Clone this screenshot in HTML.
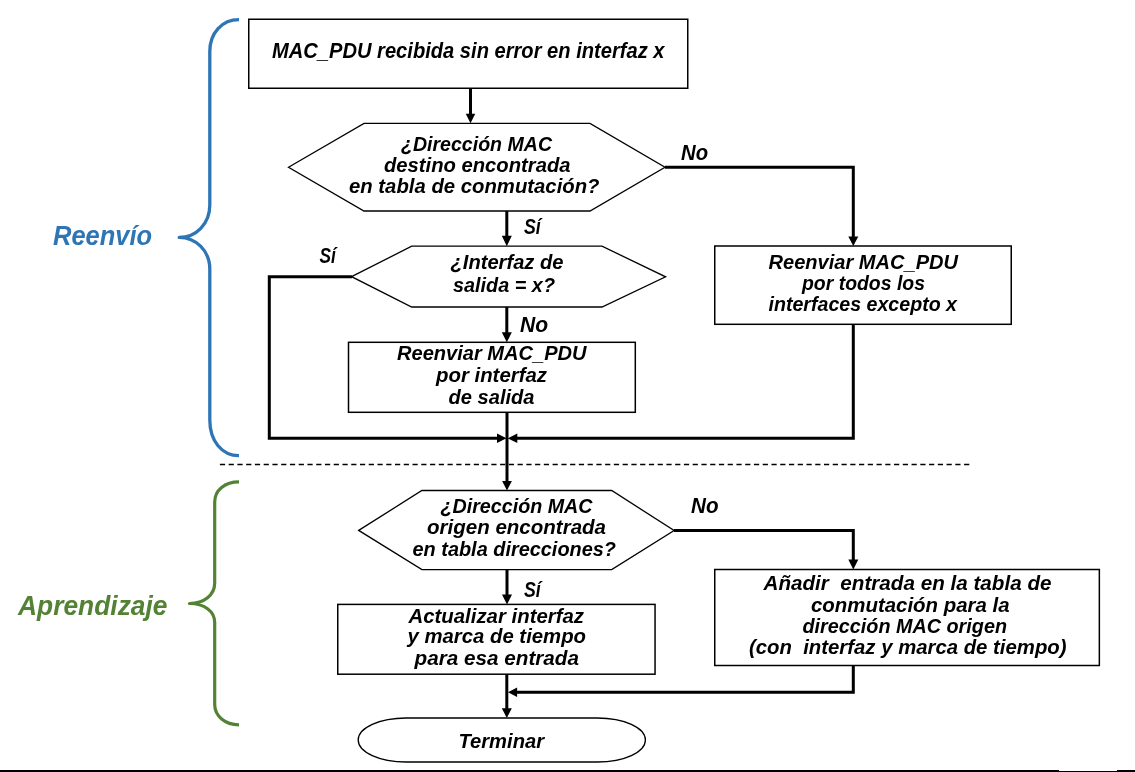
<!DOCTYPE html>
<html><head><meta charset="utf-8"><style>
html,body{margin:0;padding:0;background:#fff;width:1135px;height:772px;overflow:hidden;}
svg{display:block;will-change:transform;font-family:"Liberation Sans",sans-serif;}
</style></head><body>
<svg width="1135" height="772" viewBox="0 0 1135 772">
<path d="M239 19.7 C222 19.7 209.8 33 209.8 51.5 V205 C209.8 224 196 237.4 179.2 237.4 C196 237.4 209.8 251 209.8 269 V420 C209.8 441 222 455.7 239 455.7" fill="none" stroke="#2E75B6" stroke-width="3.3" stroke-linecap="butt" stroke-linejoin="round"/>
<path d="M239 481.9 C225 481.9 214.7 490 214.7 502 V583 C214.7 595 204 603.5 189.5 603.5 C204 603.5 214.7 611 214.7 622.5 V704.6 C214.7 716 225 724.8 239 724.8" fill="none" stroke="#548235" stroke-width="3.2" stroke-linecap="butt" stroke-linejoin="round"/>
<path d="M219.9 464.5 H970" fill="none" stroke="#000" stroke-width="1.7" stroke-dasharray="5.2 3.555"/>
<rect x="248.75" y="19.25" width="439" height="69" fill="#fff" stroke="#000" stroke-width="1.5"/>
<path d="M288.5 167.2 L364 123.4 L590 123.4 L665 167.2 L590 211 L364 211 Z" fill="#fff" stroke="#000" stroke-width="1.3"/>
<path d="M351.6 276.7 L411.7 246.2 L602 246.2 L665.6 276.8 L602 307 L411.7 307 Z" fill="#fff" stroke="#000" stroke-width="1.3"/>
<rect x="714.75" y="246" width="296.5" height="78.3" fill="#fff" stroke="#000" stroke-width="1.5"/>
<rect x="348.5" y="342.3" width="286.8" height="70" fill="#fff" stroke="#000" stroke-width="1.5"/>
<path d="M358.7 530.4 L421.9 490.5 L611.7 490.5 L674.1 530.5 L611.7 569.6 L421.9 569.6 Z" fill="#fff" stroke="#000" stroke-width="1.3"/>
<rect x="714.75" y="569.5" width="384.6" height="96" fill="#fff" stroke="#000" stroke-width="1.5"/>
<rect x="337.75" y="604.4" width="317.3" height="69.8" fill="#fff" stroke="#000" stroke-width="1.5"/>
<rect x="358.2" y="718" width="287.2" height="44" rx="48" ry="22" fill="#fff" stroke="#000" stroke-width="1.3"/>
<path d="M470.5 89 V114.5" fill="none" stroke="#000" stroke-width="3" stroke-linejoin="miter" stroke-linecap="butt"/>
<path d="M465.75 113.80 L475.25 113.80 L470.50 123.30 Z"/>
<path d="M665 167.2 H853.3 V237" fill="none" stroke="#000" stroke-width="3" stroke-linejoin="miter" stroke-linecap="butt"/>
<path d="M848.30 236.50 L858.30 236.50 L853.30 246.00 Z"/>
<path d="M506.8 211 V236" fill="none" stroke="#000" stroke-width="3" stroke-linejoin="miter" stroke-linecap="butt"/>
<path d="M501.80 235.70 L511.80 235.70 L506.80 246.20 Z"/>
<path d="M352 276.7 H269.3 V438.3 H498" fill="none" stroke="#000" stroke-width="3" stroke-linejoin="miter" stroke-linecap="butt"/>
<path d="M497.00 433.55 L497.00 443.05 L506.50 438.30 Z"/>
<path d="M506.8 307 V333" fill="none" stroke="#000" stroke-width="3" stroke-linejoin="miter" stroke-linecap="butt"/>
<path d="M501.80 332.30 L511.80 332.30 L506.80 342.30 Z"/>
<path d="M507 412.3 V481.5" fill="none" stroke="#000" stroke-width="3" stroke-linejoin="miter" stroke-linecap="butt"/>
<path d="M502.10 480.90 L511.90 480.90 L507.00 490.50 Z"/>
<path d="M853.3 324.3 V438.3 H516" fill="none" stroke="#000" stroke-width="3" stroke-linejoin="miter" stroke-linecap="butt"/>
<path d="M517.30 433.55 L517.30 443.05 L507.80 438.30 Z"/>
<path d="M674 530.6 H853.3 V560" fill="none" stroke="#000" stroke-width="3" stroke-linejoin="miter" stroke-linecap="butt"/>
<path d="M848.30 559.50 L858.30 559.50 L853.30 569.50 Z"/>
<path d="M507 569.6 V595" fill="none" stroke="#000" stroke-width="3" stroke-linejoin="miter" stroke-linecap="butt"/>
<path d="M502.00 594.40 L512.00 594.40 L507.00 604.40 Z"/>
<path d="M506.8 674.2 V709" fill="none" stroke="#000" stroke-width="3" stroke-linejoin="miter" stroke-linecap="butt"/>
<path d="M501.80 708.20 L511.80 708.20 L506.80 718.00 Z"/>
<path d="M853.3 665.5 V692.2 H516" fill="none" stroke="#000" stroke-width="3" stroke-linejoin="miter" stroke-linecap="butt"/>
<path d="M517.10 687.50 L517.10 696.90 L507.90 692.20 Z"/>
<rect x="0" y="770" width="1059" height="2" fill="#000"/>
<rect x="1059" y="771" width="58" height="1" fill="#000"/>
<rect x="1117" y="770" width="18" height="2" fill="#000"/>
<g font-family="Liberation Sans, sans-serif" font-weight="bold" font-style="italic" stroke-width="0.0" stroke-linejoin="miter" stroke-miterlimit="2">
<text xml:space="preserve" x="272.00" y="57.90" font-size="21.80" fill="#000" stroke="none" textLength="392.50" lengthAdjust="spacingAndGlyphs">MAC_PDU recibida sin error en interfaz x</text>
<text xml:space="preserve" x="401.00" y="150.70" font-size="21.00" fill="#000" stroke="none" textLength="151.01" lengthAdjust="spacingAndGlyphs">¿Dirección MAC</text>
<text xml:space="preserve" x="384.00" y="171.80" font-size="21.00" fill="#000" stroke="none" textLength="186.51" lengthAdjust="spacingAndGlyphs">destino encontrada</text>
<text xml:space="preserve" x="349.00" y="193.00" font-size="21.00" fill="#000" stroke="none" textLength="250.51" lengthAdjust="spacingAndGlyphs">en tabla de conmutación?</text>
<text xml:space="preserve" x="450.50" y="269.00" font-size="21.00" fill="#000" stroke="none" textLength="113.00" lengthAdjust="spacingAndGlyphs">¿Interfaz de</text>
<text xml:space="preserve" x="453.00" y="291.60" font-size="21.00" fill="#000" stroke="none" textLength="102.01" lengthAdjust="spacingAndGlyphs">salida = x?</text>
<text xml:space="preserve" x="768.50" y="268.60" font-size="21.00" fill="#000" stroke="none" textLength="189.51" lengthAdjust="spacingAndGlyphs">Reenviar MAC_PDU</text>
<text xml:space="preserve" x="802.00" y="289.70" font-size="21.00" fill="#000" stroke="none" textLength="123.00" lengthAdjust="spacingAndGlyphs">por todos los</text>
<text xml:space="preserve" x="768.50" y="311.20" font-size="21.00" fill="#000" stroke="none" textLength="188.51" lengthAdjust="spacingAndGlyphs">interfaces excepto x</text>
<text xml:space="preserve" x="397.00" y="359.90" font-size="21.00" fill="#000" stroke="none" textLength="189.50" lengthAdjust="spacingAndGlyphs">Reenviar MAC_PDU</text>
<text xml:space="preserve" x="436.00" y="381.70" font-size="21.00" fill="#000" stroke="none" textLength="111.00" lengthAdjust="spacingAndGlyphs">por interfaz</text>
<text xml:space="preserve" x="448.50" y="403.50" font-size="21.00" fill="#000" stroke="none" textLength="86.01" lengthAdjust="spacingAndGlyphs">de salida</text>
<text xml:space="preserve" x="440.50" y="512.60" font-size="21.00" fill="#000" stroke="none" textLength="152.00" lengthAdjust="spacingAndGlyphs">¿Dirección MAC</text>
<text xml:space="preserve" x="427.00" y="534.00" font-size="21.00" fill="#000" stroke="none" textLength="179.02" lengthAdjust="spacingAndGlyphs">origen encontrada</text>
<text xml:space="preserve" x="412.50" y="556.00" font-size="21.00" fill="#000" stroke="none" textLength="203.51" lengthAdjust="spacingAndGlyphs">en tabla direcciones?</text>
<text xml:space="preserve" x="763.50" y="589.70" font-size="20.50" fill="#000" stroke="none" textLength="288.00" lengthAdjust="spacingAndGlyphs">Añadir  entrada en la tabla de</text>
<text xml:space="preserve" x="811.00" y="611.60" font-size="20.50" fill="#000" stroke="none" textLength="198.51" lengthAdjust="spacingAndGlyphs">conmutación para la</text>
<text xml:space="preserve" x="802.50" y="633.40" font-size="20.50" fill="#000" stroke="none" textLength="204.50" lengthAdjust="spacingAndGlyphs">dirección MAC origen</text>
<text xml:space="preserve" x="749.00" y="654.00" font-size="20.50" fill="#000" stroke="none" textLength="317.51" lengthAdjust="spacingAndGlyphs">(con  interfaz y marca de tiempo)</text>
<text xml:space="preserve" x="408.50" y="622.70" font-size="21.00" fill="#000" stroke="none" textLength="175.50" lengthAdjust="spacingAndGlyphs">Actualizar interfaz</text>
<text xml:space="preserve" x="407.50" y="643.30" font-size="21.00" fill="#000" stroke="none" textLength="178.50" lengthAdjust="spacingAndGlyphs">y marca de tiempo</text>
<text xml:space="preserve" x="414.50" y="665.00" font-size="21.00" fill="#000" stroke="none" textLength="164.50" lengthAdjust="spacingAndGlyphs">para esa entrada</text>
<text xml:space="preserve" x="458.50" y="747.60" font-size="21.00" fill="#000" stroke="none" textLength="85.51" lengthAdjust="spacingAndGlyphs">Terminar</text>
<text xml:space="preserve" x="681.00" y="159.80" font-size="21.50" fill="#000" stroke="none" textLength="27.06" lengthAdjust="spacingAndGlyphs">No</text>
<text xml:space="preserve" x="524.00" y="233.70" font-size="21.50" fill="#000" stroke="none" textLength="16.76" lengthAdjust="spacingAndGlyphs">Sí</text>
<text xml:space="preserve" x="319.50" y="262.80" font-size="21.50" fill="#000" stroke="none" textLength="16.31" lengthAdjust="spacingAndGlyphs">Sí</text>
<text xml:space="preserve" x="520.00" y="331.80" font-size="21.50" fill="#000" stroke="none" textLength="28.10" lengthAdjust="spacingAndGlyphs">No</text>
<text xml:space="preserve" x="691.00" y="512.70" font-size="21.50" fill="#000" stroke="none" textLength="27.53" lengthAdjust="spacingAndGlyphs">No</text>
<text xml:space="preserve" x="524.00" y="596.80" font-size="21.50" fill="#000" stroke="none" textLength="16.76" lengthAdjust="spacingAndGlyphs">Sí</text>
<text xml:space="preserve" x="53.00" y="244.90" font-size="27.30" fill="#2E75B6" stroke="none" textLength="99.03" lengthAdjust="spacingAndGlyphs">Reenvío</text>
<text xml:space="preserve" x="18.00" y="614.70" font-size="27.00" fill="#548235" stroke="none" textLength="149.51" lengthAdjust="spacingAndGlyphs">Aprendizaje</text>
</g>
</svg>
</body></html>
